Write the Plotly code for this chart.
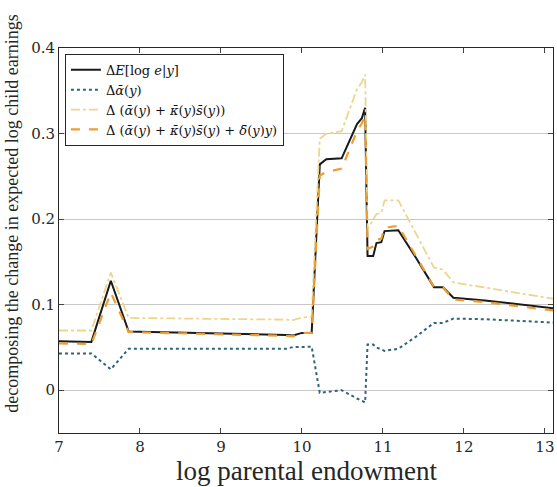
import plotly.graph_objects as go

x_vals = [7.00, 7.40, 7.64, 7.86, 9.81, 9.89, 10.00, 10.12, 10.22, 10.30, 10.49, 10.68, 10.74, 10.78,
          10.81, 10.88, 10.92, 10.98, 11.02, 11.19, 11.40, 11.63, 11.74, 11.87, 12.26, 13.12]

dE = [0.0573, 0.0565, 0.128, 0.0686, 0.0645, 0.064, 0.067, 0.067, 0.264, 0.270, 0.271, 0.311, 0.318, 0.330,
      0.157, 0.157, 0.172, 0.173, 0.186, 0.187, 0.156, 0.1205, 0.1205, 0.108, 0.105, 0.0955]

d_alpha = [0.043, 0.043, 0.0244, 0.0485, 0.0485, 0.0505, 0.0505, 0.051, -0.003, -0.002, 0.000, -0.0097, -0.012, -0.0143,
           0.0535, 0.0535, 0.050, 0.048, 0.046, 0.0485, 0.062, 0.0787, 0.0787, 0.0837, 0.083, 0.079]

d_alpha_ks = [0.0698, 0.0698, 0.1376, 0.0845, 0.0825, 0.082, 0.085, 0.086, 0.294, 0.2996, 0.3027, 0.352, 0.360, 0.369,
              0.188, 0.200, 0.206, 0.207, 0.222, 0.222, 0.185, 0.1434, 0.141, 0.126, 0.120, 0.1066]

d_alpha_ks_d = [0.0547, 0.054, 0.114, 0.068, 0.0635, 0.063, 0.067, 0.067, 0.251, 0.255, 0.259, 0.303, 0.312, 0.321,
                0.165, 0.168, 0.176, 0.177, 0.190, 0.192, 0.158, 0.121, 0.120, 0.106, 0.103, 0.093]

names = [
    "Δ<i>E</i>[log <i>e</i>|<i>y</i>]",
    "Δ<i>ᾱ</i>(<i>y</i>)",
    "Δ (<i>ᾱ</i>(<i>y</i>) + <i>κ̄</i>(<i>y</i>)<i>s̄</i>(<i>y</i>))",
    "Δ (<i>ᾱ</i>(<i>y</i>) + <i>κ̄</i>(<i>y</i>)<i>s̄</i>(<i>y</i>) + <i>δ̄</i>(<i>y</i>)<i>y</i>)",
]

y_ticks = [0, 0.1, 0.2, 0.3, 0.4]
y_ticklabels = ["0", "0.1", "0.2", "0.3", "0.4"]
x_ticks = [7, 8, 9, 10, 11, 12, 13]

FONT = "Liberation Serif"
TICKFONT = "DejaVu Serif"

fig = go.Figure()
fig.add_trace(go.Scatter(x=x_vals, y=dE, mode="lines", name=names[0],
                         line=dict(color="#1a1a1a", width=2)))
fig.add_trace(go.Scatter(x=x_vals, y=d_alpha, mode="lines", name=names[1],
                         line=dict(color="#2f6577", width=2, dash="dot")))
fig.add_trace(go.Scatter(x=x_vals, y=d_alpha_ks, mode="lines", name=names[2],
                         line=dict(color="#ebd68e", width=1.8, dash="dashdot")))
fig.add_trace(go.Scatter(x=x_vals, y=d_alpha_ks_d, mode="lines", name=names[3],
                         line=dict(color="#e99f33", width=2.2, dash="dash")))

fig.update_layout(
    width=557, height=487,
    margin=dict(l=59, r=4, t=48, b=54),
    paper_bgcolor="white", plot_bgcolor="white",
    font=dict(family=FONT, size=16, color="#262626"),
    showlegend=True,
    legend=dict(x=0.012, y=0.985, xanchor="left", yanchor="top",
                bgcolor="white", bordercolor="#262626", borderwidth=1,
                font=dict(family=TICKFONT, size=13, color="#111"),
                tracegroupgap=0, itemwidth=30),
    xaxis=dict(range=[7, 13.1], tickvals=x_ticks, ticks="inside", ticklen=5,
               showline=True, linecolor="#262626", linewidth=1, mirror="allticks",
               showgrid=False, zeroline=False,
               tickfont=dict(family=TICKFONT, size=15, color="#262626")),
    yaxis=dict(range=[-0.05, 0.4], tickvals=y_ticks, ticktext=y_ticklabels,
               ticks="inside", ticklen=5,
               showline=True, linecolor="#262626", linewidth=1, mirror="allticks",
               showgrid=True, gridcolor="#c8c8c8", gridwidth=1.3, zeroline=False,
               tickfont=dict(family=TICKFONT, size=15, color="#262626")),
)

fig.add_annotation(text="log parental endowment", xref="paper", yref="paper",
                   x=0.5, y=-0.098, xanchor="center", yanchor="middle", showarrow=False,
                   font=dict(family=FONT, size=27, color="#262626"))
fig.add_annotation(text="decomposing the change in expected log child earnings",
                   xref="paper", yref="paper", x=-0.097, y=0.57, textangle=-90,
                   xanchor="center", yanchor="middle", showarrow=False,
                   font=dict(family=FONT, size=18, color="#262626"))

fig.write_html("out.html")
